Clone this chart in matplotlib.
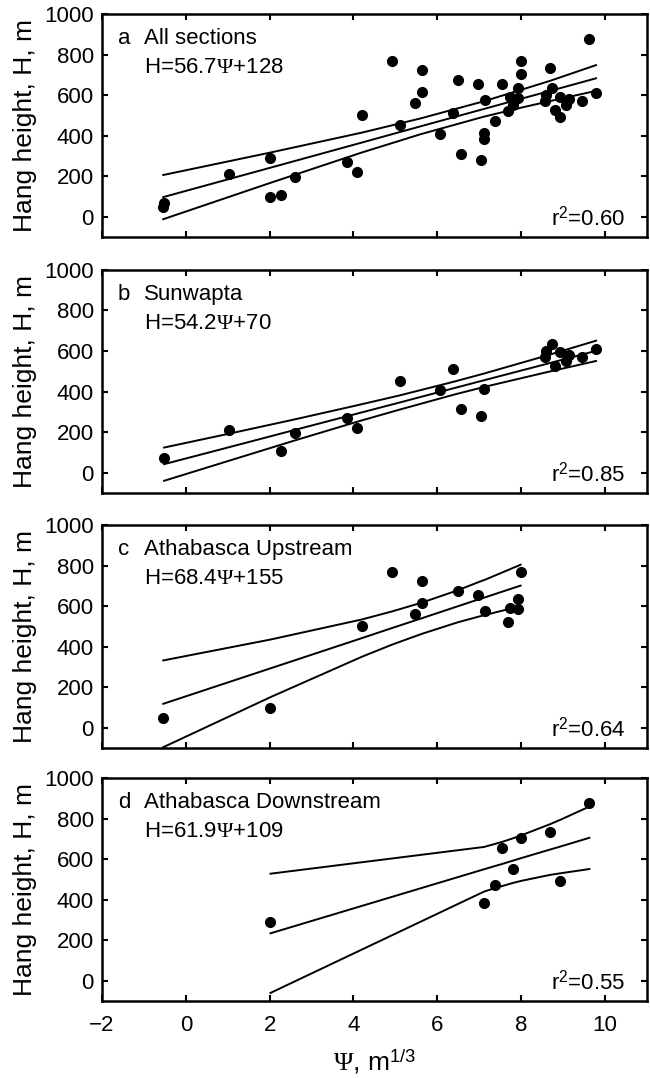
import numpy as np
import matplotlib
matplotlib.use('Agg')
import matplotlib.pyplot as plt

plt.rcParams['font.family'] = ['Liberation Sans', 'DejaVu Sans']
plt.rcParams['mathtext.fontset'] = 'custom'
plt.rcParams['mathtext.rm'] = 'Liberation Serif'
plt.rcParams['mathtext.sf'] = 'Liberation Sans'
plt.rcParams['mathtext.it'] = 'Liberation Serif:italic'

# Sunwapta
psi_b = [-0.53, 1.02, 2.26, 2.6, 3.84, 4.08, 5.1, 6.07, 6.38, 6.57, 7.05, 7.12,
         8.58, 8.6, 8.74, 8.8, 8.94, 9.08, 9.14, 9.46, 9.79]
h_b = [70, 209, 108, 198, 269, 220, 451, 410, 511, 312, 280, 411,
       573, 602, 633, 528, 593, 552, 581, 572, 612]

# Athabasca upstream
psi_c = [-0.54, 2.02, 4.2, 4.91, 5.48, 5.63, 5.63, 6.49, 6.97, 7.14, 7.68, 7.74,
         7.93, 7.93, 7.99]
h_c = [50, 99, 502, 766, 563, 724, 613, 674, 655, 575, 523, 593, 634, 584, 766]

# Athabasca downstream
psi_d = [2.02, 7.12, 7.38, 7.55, 7.8, 7.99, 8.69, 8.94, 9.63]
h_d = [290, 382, 473, 656, 552, 704, 733, 492, 875]

# fit line and confidence band vertices
band_x_a = [-0.54, 2.0, 4.2, 5.6, 7.1, 8.0, 8.7, 9.79]
fit_a = [97, 241, 366, 446, 531, 582, 621, 683]
upper_a = [206, 316, 415, 485, 569, 626, 671, 748]
lower_a = [-12, 166, 317, 407, 493, 538, 571, 621]

band_x_b = [-0.52, 1.0, 2.6, 4.1, 5.1, 6.4, 7.1, 8.6, 9.79]
fit_b = [42, 124, 211, 292, 346, 417, 455, 536, 601]
upper_b = [124, 191, 263, 333, 381, 449, 488, 577, 651]
lower_b = [-40, 57, 159, 252, 311, 385, 422, 495, 551]

band_x_c = [-0.54, 2.02, 4.2, 4.91, 5.63, 6.49, 6.97, 7.14, 7.68, 7.99]
fit_c = [118, 293, 442, 491, 540, 599, 632, 643, 680, 701]
upper_c = [332, 435, 534, 573, 617, 678, 717, 730, 777, 804]
lower_c = [-96, 151, 350, 409, 463, 520, 547, 556, 584, 598]

band_x_d = [2.02, 7.12, 7.38, 7.55, 7.8, 7.99, 8.69, 8.94, 9.63]
fit_d = [234, 550, 566, 576, 592, 604, 647, 662, 705]
upper_d = [528, 660, 675, 685, 702, 716, 772, 794, 859]
lower_d = [-60, 440, 457, 467, 482, 492, 522, 530, 551]

letters = ['a', 'b', 'c', 'd']
names = ['All sections', 'Sunwapta', 'Athabasca Upstream', 'Athabasca Downstream']
equations = [r'H=56.7$\Psi$+128', r'H=54.2$\Psi$+70',
             r'H=68.4$\Psi$+155', r'H=61.9$\Psi$+109']
r2_labels = ['0.60', '0.85', '0.64', '0.55']

psi_a = np.concatenate([psi_b, psi_c, psi_d])
h_a = np.concatenate([h_b, h_c, h_d])

panels = [
    (psi_a, h_a, band_x_a, fit_a, upper_a, lower_a),
    (psi_b, h_b, band_x_b, fit_b, upper_b, lower_b),
    (psi_c, h_c, band_x_c, fit_c, upper_c, lower_c),
    (psi_d, h_d, band_x_d, fit_d, upper_d, lower_d),
]

fig = plt.figure(figsize=(6.5, 10.78), dpi=100)
bottoms = [0.7801, 0.5427, 0.3061, 0.0714]

for i, (px, py, bx, fit, up, lo) in enumerate(panels):
    ax = fig.add_axes([0.157, bottoms[i], 0.838, 0.2069])
    ax.plot(bx, up, color='black', lw=1.4)
    ax.plot(bx, fit, color='black', lw=1.4)
    ax.plot(bx, lo, color='black', lw=1.4)
    ax.plot(px, py, 'o', color='black', markersize=7, clip_on=False)

    ax.set_xlim(-2, 11)
    ax.set_ylim(-100, 1000)
    ax.set_xticks([-2, 0, 2, 4, 6, 8, 10])
    ax.set_yticks([0, 200, 400, 600, 800, 1000])
    ax.tick_params(direction='in', length=4, width=1.5, labelsize=16,
                   top=True, right=True)
    ax.tick_params(axis='y', pad=6)
    ax.tick_params(axis='x', pad=10)
    for s in ax.spines.values():
        s.set_linewidth(1.8)
    if i < 3:
        ax.set_xticklabels([])
    else:
        ax.set_xlabel(r'$\Psi$, m$^{\mathsf{1/3}}$', fontsize=19, labelpad=8)
    ax.set_ylabel('Hang height, H, m', fontsize=19)
    ax.yaxis.set_label_coords(-0.12, 0.5)

    ax.text(0.029, 0.89, letters[i], transform=ax.transAxes, fontsize=16,
            va='center', ha='left')
    ax.text(0.077, 0.89, names[i], transform=ax.transAxes, fontsize=16,
            va='center', ha='left')
    ax.text(0.077, 0.76, equations[i], transform=ax.transAxes, fontsize=16,
            va='center', ha='left')
    ax.text(0.96, 0.085, r'r$^{\mathsf{2}}$=' + r2_labels[i],
            transform=ax.transAxes, fontsize=16, va='center', ha='right')

fig.savefig('out.png', dpi=100)
